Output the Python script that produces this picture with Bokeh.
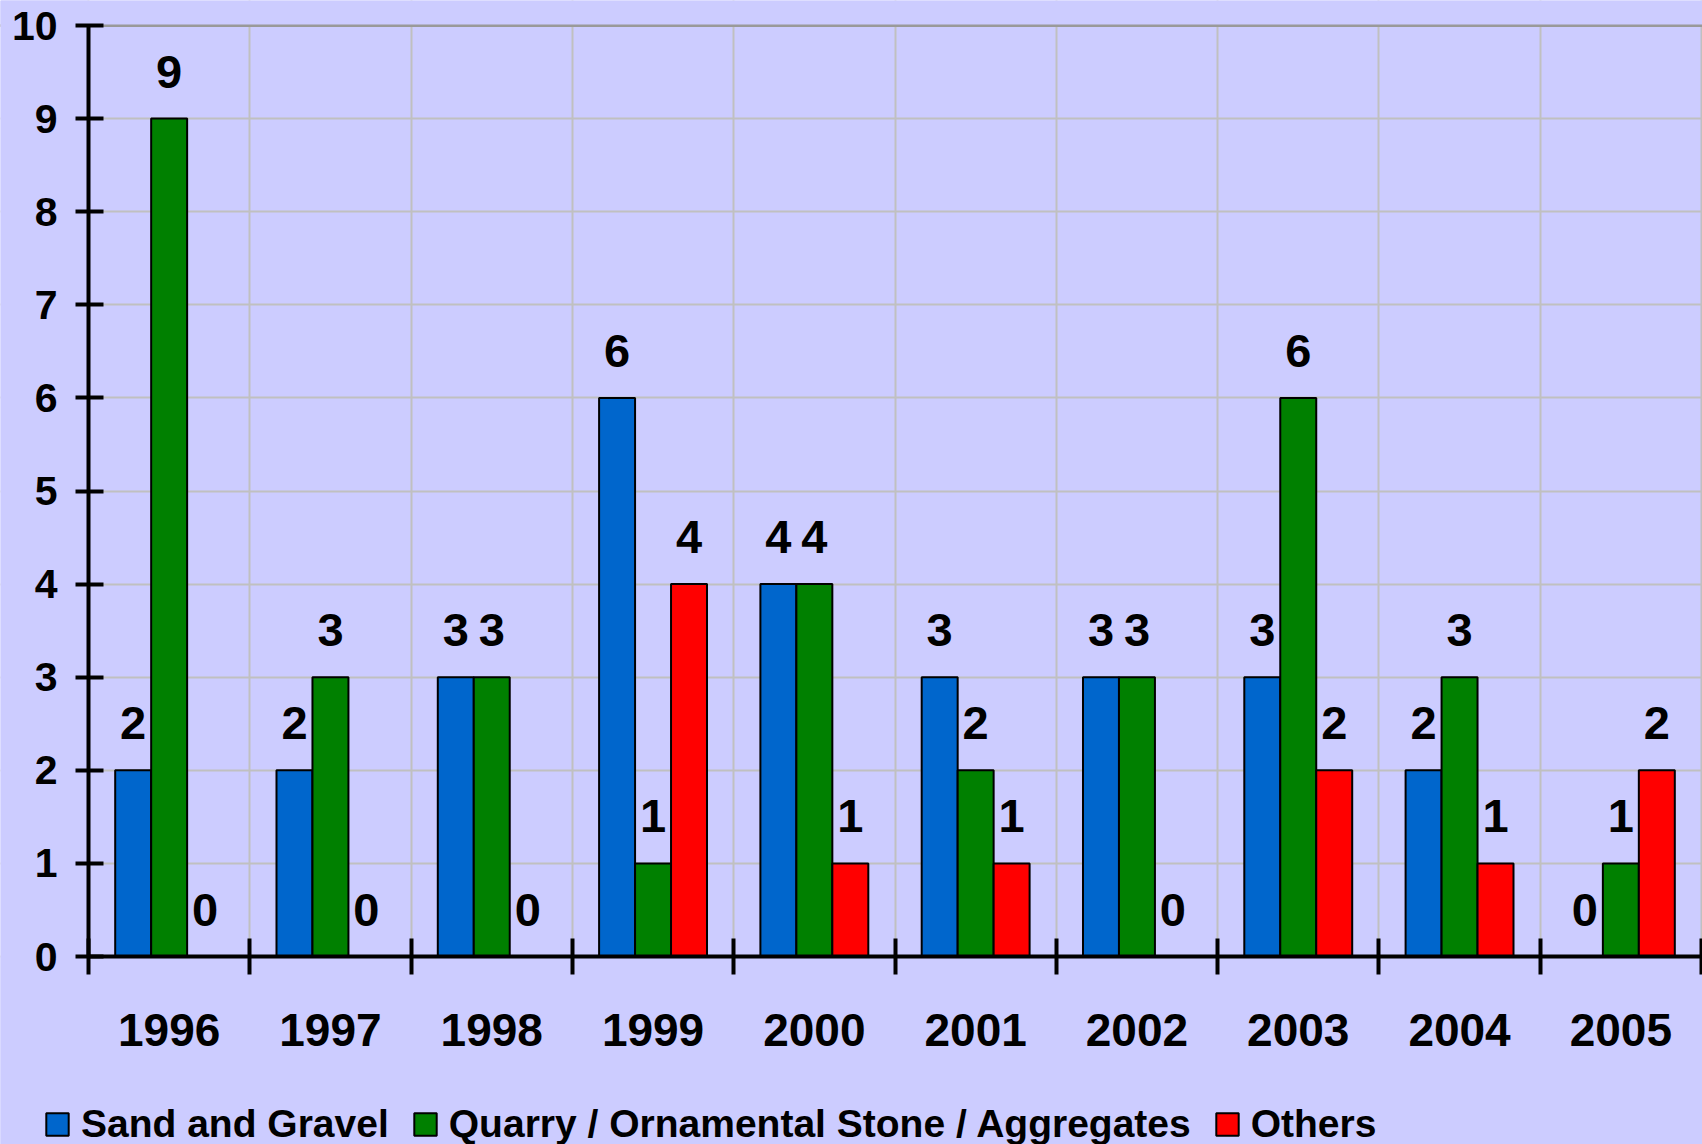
from bokeh.plotting import figure
from bokeh.models import (ColumnDataSource, Range1d, FixedTicker, Legend, LegendItem,
                          Span, BoxAnnotation)
from bokeh.embed import file_html
from bokeh.resources import INLINE
from bokeh.core.properties import value

# ---- data ----
years = ["1996", "1997", "1998", "1999", "2000", "2001", "2002", "2003", "2004", "2005"]
sand_gravel = [2, 2, 3, 6, 4, 3, 3, 3, 2, 0]
quarry = [9, 3, 3, 1, 4, 2, 3, 6, 3, 1]
others = [0, 0, 0, 4, 1, 1, 0, 2, 1, 2]
series_names = ["Sand and Gravel", "Quarry / Ornamental Stone / Aggregates", "Others"]
series_colors = ["#0066CC", "#008000", "#FF0000"]
y_ticks = [0, 1, 2, 3, 4, 5, 6, 7, 8, 9, 10]
y_max = 10

FONT = "Liberation Sans"
W, H = 1702, 1144
AX_X = 88       # pixel x of the value axis
Y_TOP = 25      # pixel y of value 10
Y_ZERO = 956    # pixel y of value 0
CAT_PX = 161.3  # pixels per category
PX_Y = (Y_ZERO - Y_TOP) / y_max

n = len(years)
x_range = Range1d(-AX_X / CAT_PX, (W - AX_X) / CAT_PX)
y_range = Range1d(-(H - Y_ZERO) / PX_Y, y_max + Y_TOP / PX_Y)
p = figure(width=W, height=H, output_backend="svg", toolbar_location=None,
           x_range=x_range, y_range=y_range,
           min_border_left=0, min_border_top=0, min_border_right=0,
           min_border_bottom=0)
p.background_fill_color = "#CCCCFF"
p.border_fill_color = "#CCCCFF"
p.outline_line_color = None

bar_w = 0.223
offsets = [-bar_w, 0.0, bar_w]
all_series = [sand_gravel, quarry, others]
renderers = []
for vals, off, col in zip(all_series, offsets, series_colors):
    xs = [i + 0.5 + off for i in range(n)]
    src = ColumnDataSource(dict(x=xs, top=vals, lab=[str(v) for v in vals]))
    r = p.vbar(x="x", top="top", width=bar_w, bottom=0, source=src,
               fill_color=col, line_color="black", line_width=2)
    renderers.append(r)
    p.text(x="x", y="top", text="lab", source=src, text_align="center",
           text_baseline="alphabetic", y_offset=-47,
           text_font=value(FONT), text_font_style="bold",
           text_font_size="47px", text_color="black")

# grids
p.xgrid.ticker = FixedTicker(ticks=list(range(n + 1)))
p.ygrid.ticker = FixedTicker(ticks=y_ticks)
p.xgrid.grid_line_color = "#C0C0C0"
p.ygrid.grid_line_color = "#C0C0C0"
p.xgrid.grid_line_width = 2
p.ygrid.grid_line_width = 2

# top border line (plot-area edge)
p.add_layout(Span(location=y_max, dimension="width", line_color="#999999",
                  line_width=3, level="underlay"))
# mask grid outside the plot area
bg = "#CCCCFF"
p.add_layout(BoxAnnotation(bottom=y_max + 0.01, fill_color=bg, fill_alpha=1,
                           line_color=None, level="underlay"))
p.add_layout(BoxAnnotation(top=0, fill_color=bg, fill_alpha=1,
                           line_color=None, level="underlay"))
p.add_layout(BoxAnnotation(right=0, fill_color=bg, fill_alpha=1,
                           line_color=None, level="underlay"))

# x axis
xa = p.xaxis[0]
xa.fixed_location = 0
xa.bounds = (0, n)
xa.ticker = FixedTicker(ticks=[i + 0.5 for i in range(n)], minor_ticks=list(range(n + 1)))
xa.major_label_overrides = {i + 0.5: y for i, y in enumerate(years)}
xa.major_tick_line_color = None
xa.major_tick_in = 0
xa.major_tick_out = 18
xa.minor_tick_in = 18
xa.minor_tick_out = 18
xa.minor_tick_line_width = 4
xa.minor_tick_line_color = "black"
xa.axis_line_width = 4
xa.axis_line_color = "black"
xa.major_label_text_font = FONT
xa.major_label_text_font_style = "bold"
xa.major_label_text_font_size = "46px"
xa.major_label_text_color = "black"
xa.major_label_standoff = 39

# y axis
ya = p.yaxis[0]
ya.fixed_location = 0
ya.bounds = (0, y_max)
ya.ticker = FixedTicker(ticks=y_ticks)
ya.major_tick_in = 15
ya.major_tick_out = 13
ya.major_tick_line_width = 4
ya.major_tick_line_color = "black"
ya.minor_tick_line_color = None
ya.axis_line_width = 4
ya.axis_line_color = "black"
ya.major_label_text_font = FONT
ya.major_label_text_font_style = "bold"
ya.major_label_text_font_size = "41px"
ya.major_label_text_color = "black"
ya.major_label_standoff = 18

# legend
items = [LegendItem(label=nm, renderers=[r]) for nm, r in zip(series_names, renderers)]
legend = Legend(items=items, orientation="horizontal", location=(43, -2),
                glyph_width=28, glyph_height=28, label_standoff=10, spacing=22,
                label_text_font=FONT, label_text_font_style="bold",
                label_text_font_size="39px", label_text_color="black",
                padding=0, margin=0, border_line_color=None,
                background_fill_alpha=0)
p.add_layout(legend, "center")

html = file_html(p, INLINE)
html = html.replace("<body>", '<body style="background-color:#CCCCFF;">', 1)
open("out.html", "w").write(html)
